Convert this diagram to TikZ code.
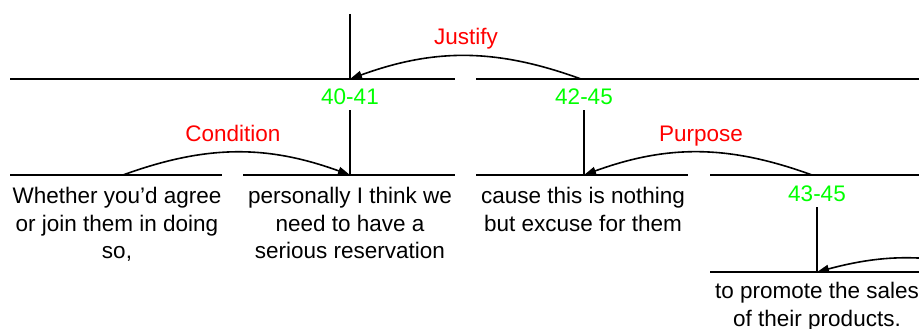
\documentclass[tikz,border=0pt]{standalone}
\usepackage{fontspec}
\setmainfont{Liberation Sans}
\usetikzlibrary{arrows.meta}
\definecolor{relred}{RGB}{255,0,0}
\definecolor{spangreen}{RGB}{0,255,0}

\begin{document}
\begin{tikzpicture}[
  x=1pt, y=1pt,
  every node/.style={font=\fontsize{22.5}{27.5}\selectfont, inner sep=0pt},
  seg/.style={anchor=north, align=center},
  spanlbl/.style={anchor=base, text=spangreen, inner sep=5pt},
  rel/.style={anchor=base, text=relred},
  bar/.style={line width=1.6pt},
  relarc/.style={line width=1.6pt, -{Triangle[length=12pt,width=8pt]}}
]
\path[use as bounding box, clip] (0,0) rectangle (919,329);
% span bars
\foreach \xa/\xb/\y in {10/455/250, 476/930/250, 10/222/154, 243/455/154,
                        476/688/154, 710/930/154, 710/930/57}
  \draw[bar] (\xa,\y) -- (\xb,\y);
% attach points on the bars
\coordinate (root) at (350,315);
\coordinate (b4041) at (350,250);
\coordinate (b4245) at (581,250);
\coordinate (b40) at (123,154);
\coordinate (b41) at (350,154);
\coordinate (b42) at (584,154);
\coordinate (b4345) at (812,154);
\coordinate (b43) at (817,57);
\coordinate (b4445) at (1000,57);
% elementary segments
\node[seg] (e40) at (117,142) {Whether you'd agree\\or join them in doing\\so,};
\node[seg] (e41) at (350,142) {personally I think we\\need to have a\\serious reservation};
\node[seg] (e42) at (583,142) {cause this is nothing\\but excuse for them};
\node[seg] (e43) at (817,47) {to promote the sales\\of their products.};
% span labels
\node[spanlbl] (s4041) at (350,224) {40-41};
\node[spanlbl] (s4245) at (584,224) {42-45};
\node[spanlbl] (s4345) at (817,127) {43-45};
\draw[bar] (root) -- (b4041);
\draw[bar] (s4041.south) -- (b41);
\draw[bar] (s4245.south) -- (b42);
\draw[bar] (s4345.south) -- (b43);
% relations
\node[rel] (justify) at (466,284) {Justify};
\node[rel] (condition) at (233,187) {Condition};
\node[rel] (purpose) at (701,187) {Purpose};
\draw[relarc] (b4245) to[out=160,in=20] (b4041);
\draw[relarc] (b40) to[out=20,in=160] (b41);
\draw[relarc] (b4345) to[out=160,in=20] (b42);
\draw[relarc] (b4445) to[out=165,in=15] (b43);
\end{tikzpicture}
\end{document}
